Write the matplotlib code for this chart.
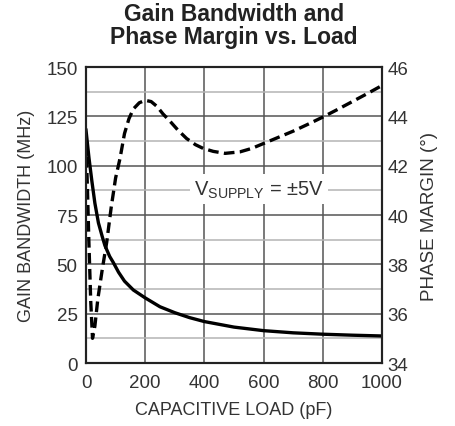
import numpy as np
import matplotlib.pyplot as plt
from matplotlib.ticker import MultipleLocator

plt.rcParams['font.family'] = ['Liberation Sans', 'DejaVu Sans']
plt.rcParams['mathtext.fontset'] = 'custom'
plt.rcParams['mathtext.rm'] = 'Liberation Sans'

# gain bandwidth (MHz) vs capacitive load (pF)
gbw_load = [0, 10, 20, 30, 42, 55, 64, 80, 92, 110, 130, 160, 200, 250, 300,
            350, 400, 500, 600, 700, 800, 900, 1000]
gbw = [118, 104, 92, 81, 71, 64, 59.5, 54, 51, 46, 41.5, 37, 33, 28.5, 25.5,
       23, 21, 18.2, 16.4, 15.3, 14.6, 14.1, 13.7]

# phase margin (deg) vs capacitive load (pF)
pm_load = [0, 5, 10, 16, 22, 30, 40, 55, 70, 85, 100, 115, 130, 145, 160, 180,
           200, 220, 240, 260, 284, 310, 340, 370, 396, 430, 470, 520, 560,
           600, 650, 700, 750, 800, 850, 900, 950, 1000]
pm = [43.0, 41.0, 38.8, 36.5, 35.0, 35.5, 36.6, 37.8, 38.9, 40.3, 41.5, 42.3,
      43.3, 43.9, 44.3, 44.55, 44.65, 44.6, 44.4, 44.1, 43.8, 43.45, 43.1,
      42.85, 42.7, 42.58, 42.5, 42.56, 42.7, 42.9, 43.15, 43.4, 43.68, 43.97,
      44.28, 44.6, 44.92, 45.25]

xticks = [0, 200, 400, 600, 800, 1000]
gbw_ticks = [0, 25, 50, 75, 100, 125, 150]
pm_ticks = [34, 36, 38, 40, 42, 44, 46]

txt = '#333333'
fig = plt.figure(figsize=(4.56, 4.27), dpi=100)
ax = fig.add_axes([0.1886, 0.1475, 0.6491, 0.6932])
ax2 = ax.twinx()

ax.set_xlim(0, 1000)
ax.set_ylim(0, 150)
ax2.set_ylim(34, 46)
ax.set_xticks(xticks)
ax.set_yticks(gbw_ticks)
ax2.set_yticks(pm_ticks)
ax.yaxis.set_minor_locator(MultipleLocator(12.5))

ax.grid(True, which='major', color='#555555', lw=1.1)
ax.grid(True, which='minor', axis='y', color='#b4b4b4', lw=1.1)
ax.set_axisbelow(True)

ax.plot(gbw_load, gbw, color='black', lw=2.4, zorder=3)
ax2.plot(pm_load, pm, color='black', lw=2.4, dashes=(3.2, 1.6))

ax.text(584, 88, r'V$_{\mathregular{SUPPLY}}$ = ±5V', fontsize=14.5,
        color=txt, ha='center', va='center', zorder=2,
        bbox=dict(facecolor='white', edgecolor='none', pad=3))

for a in (ax, ax2):
    a.tick_params(which='both', length=0, labelsize=13.5, labelcolor=txt)
    for s in a.spines.values():
        s.set_linewidth(1.5)
        s.set_color('#222222')
ax.tick_params(axis='y', pad=6)
ax.tick_params(axis='x', pad=8)
ax2.tick_params(axis='y', pad=4)

ax.set_xlabel('CAPACITIVE LOAD (pF)', fontsize=13, color=txt, labelpad=7)
ax.set_ylabel('GAIN BANDWIDTH (MHz)', fontsize=13, color=txt, labelpad=8)
ax2.set_ylabel('PHASE MARGIN (°)', fontsize=13.5, color=txt, labelpad=9)

fig.text(0.513, 0.94, 'Gain Bandwidth and\nPhase Margin vs. Load',
         ha='center', va='center', fontsize=16.5, fontweight='bold',
         color='#222222', linespacing=1.0)

fig.savefig('out.png', dpi=100)
